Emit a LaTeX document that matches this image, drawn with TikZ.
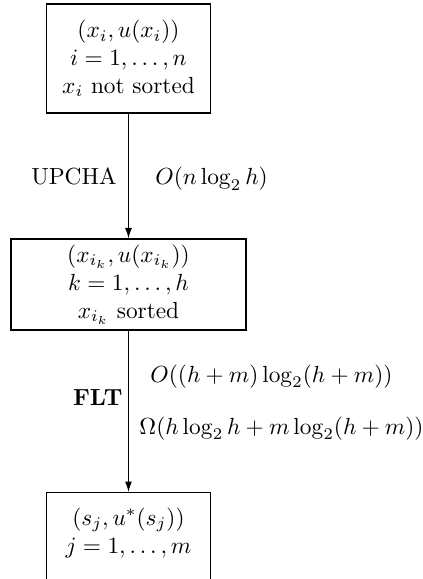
\documentclass[tikz,border=0pt]{standalone}
\usetikzlibrary{arrows.meta}
\begin{document}
\begin{tikzpicture}[x=0.429pt,y=-0.429pt,
  box/.style={draw,line width=0.5pt,align=center,inner sep=0pt,minimum width={#1*0.429pt}},
  conn/.style={draw,line width=0.5pt,-{Latex[length=4.5pt,width=3pt]}},
  lbl/.style={inner sep=0pt}]
\useasboundingbox (0,0) rectangle (422,579);
\node[box=164,minimum height={109*0.429pt}] (b1) at (128.5,58.5)
  {$(x_i,u(x_i))$\\ $i=1,\ldots,n$\\ $x_i$ not sorted};
\node[box=235,minimum height={91*0.429pt}] (b2) at (128.5,284.5)
  {$(x_{i_k},u(x_{i_k}))$\\ $k=1,\ldots,h$\\ $x_{i_k}$ sorted};
\node[box=164,minimum height={112*0.429pt},anchor=north] (b3) at (128.5,492)
  {$(s_j,u^*(s_j))$\\ $j=1,\ldots,m$\\ \strut};
\draw[conn] (b1.south) -- (b2.north);
\draw[conn] (b2.south) -- (b3.north);
\node[lbl,anchor=base east] (l1) at (117,185) {UPCHA};
\node[lbl,anchor=base west] (c1) at (155,185) {$O(n\log_2 h)$};
\node[lbl,anchor=base east] (l2) at (123,405) {\textbf{FLT}};
\node[lbl,anchor=base west] (c2) at (150,382) {$O((h+m)\log_2(h+m))$};
\node[lbl,anchor=base west] (c3) at (139,434) {$\Omega(h\log_2 h+m\log_2(h+m))$};
\end{tikzpicture}
\end{document}
